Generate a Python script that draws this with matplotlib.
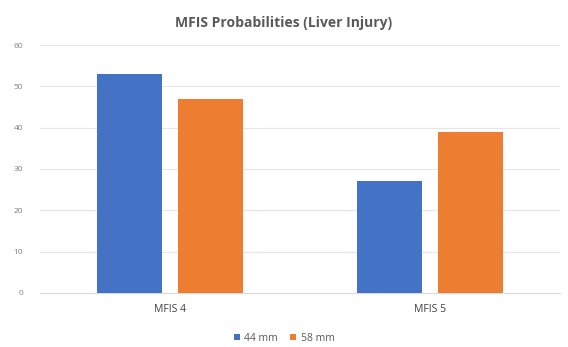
import numpy as np
import matplotlib
matplotlib.use('Agg')
import matplotlib.pyplot as plt

categories = ['MFIS 4', 'MFIS 5']
series_names = ['44 mm', '58 mm']
vals_44 = [53, 27]
vals_58 = [47, 39]
colors = ['#4472C4', '#ED7D31']

plt.rcParams['font.family'] = ['Open Sans', 'DejaVu Sans']

fig = plt.figure(figsize=(5.68, 3.47), dpi=100)
ax = fig.add_axes([0.07, 0.156, 0.916, 0.714])

x = np.arange(len(categories))
w = 0.25
ax.bar(x - 0.155, vals_44, w, color=colors[0], label=series_names[0], zorder=3)
ax.bar(x + 0.155, vals_58, w, color=colors[1], label=series_names[1], zorder=3)

ax.set_xlim(-0.5, 1.5)
ax.set_ylim(0, 60)
ax.set_yticks(range(0, 61, 10))
ax.yaxis.grid(True, color='#e6e6e6', linewidth=0.8, zorder=0)
ax.set_axisbelow(True)
for s in ax.spines.values():
    s.set_visible(False)
ax.spines['bottom'].set_visible(True)
ax.spines['bottom'].set_color('#d9d9d9')
ax.tick_params(axis='y', length=0, labelsize=6, labelcolor='#7f7f7f', pad=12)
ax.tick_params(axis='x', length=0, labelsize=7.5, labelcolor='#404040', pad=8)
ax.set_xticks(x)
ax.set_xticklabels(categories)

fig.text(0.5, 0.935, 'MFIS Probabilities (Liver Injury)', ha='center', va='center',
         fontsize=10, fontweight='bold', color='#595959')

fig.legend(loc='center', bbox_to_anchor=(0.5, 0.025), ncol=2, frameon=False,
           fontsize=7.5, handlelength=0.6, handleheight=0.6, columnspacing=1.2,
           handletextpad=0.4, labelcolor='#595959')

fig.savefig('out.png', dpi=100)
